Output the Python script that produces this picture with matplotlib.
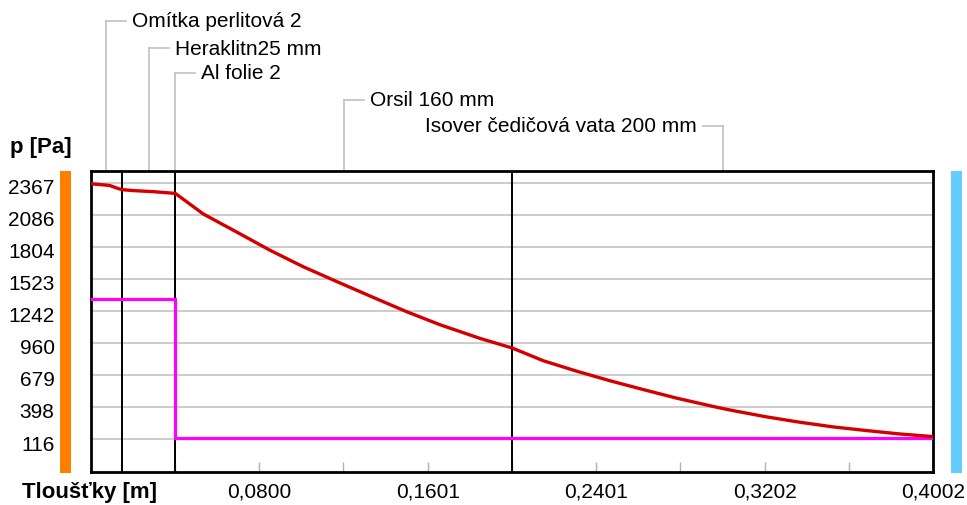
'''
Partial pressure profile through a wall (saturation vs. actual vapour pressure).
Output: out.png
'''

import matplotlib
matplotlib.use('Agg')
import matplotlib.pyplot as plt
import matplotlib.transforms as mtransforms
from matplotlib.patches import Rectangle

plt.rcParams['font.family'] = ['Liberation Sans', 'DejaVu Sans']

# layers of the wall
layers = ['Omítka perlitová 2', 'Heraklitn25 mm', 'Al folie 2', 'Orsil 160 mm',
          'Isover čedičová vata 200 mm']
thickness = [0.015, 0.025, 0.0002, 0.160, 0.200]

# saturation pressure (red)
red_x = [0.0, 0.009, 0.013, 0.015, 0.020, 0.030, 0.0402, 0.0535, 0.0694,
         0.0852, 0.1010, 0.1169, 0.1343, 0.1501, 0.1660, 0.1850, 0.2002, 0.2150,
         0.2309, 0.2467, 0.2626, 0.2784, 0.2974, 0.3053, 0.3212, 0.3370, 0.3528,
         0.3687, 0.3845, 0.4002]
red_p = [2360, 2345, 2318, 2308, 2300, 2290, 2275, 2094, 1935,
         1775, 1630, 1500, 1360, 1235, 1120, 1000, 916, 804,
         712, 628, 550, 475, 395, 365, 310, 263, 222,
         190, 160, 137]

# vapour pressure (magenta)
vap_x = [0.0, 0.0402, 0.0402, 0.4002]
vap_p = [1350, 1350, 122, 122]

y_ticks = [116, 398, 679, 960, 1242, 1523, 1804, 2086, 2367]
x_major = [0.08004, 0.16008, 0.24012, 0.32016, 0.4002]
x_minor = [0.04002, 0.12006, 0.2001, 0.28014, 0.36018]

W, H = 967, 506
FS = 15

def px(x, y, w=0, h=0):
    # pixel box (from top-left) -> figure fraction
    return (x / W, 1 - (y + h) / H, w / W, h / H)

fig = plt.figure(figsize=(W / 100, H / 100), dpi=100)
ax = fig.add_axes(px(90.7, 172, 842.5, 301))

ax.set_xlim(0, 0.4002)
ax.set_ylim(-174, 2472)

ax.set_yticks(y_ticks)
ax.set_yticklabels([str(v) for v in y_ticks], fontsize=FS)
ax.yaxis.grid(True, color='#c8c8c8', lw=1.3)
ax.set_axisbelow(True)
ax.tick_params(axis='y', length=0, pad=26)
shift = mtransforms.ScaledTranslation(0, -3 / 100, fig.dpi_scale_trans)
for lab in ax.get_yticklabels():
    lab.set_transform(lab.get_transform() + shift)

ax.set_xticks(x_major)
ax.set_xticklabels([('%.4f' % v).replace('.', ',') for v in x_major], fontsize=FS)
ax.set_xticks(x_minor, minor=True)
ax.tick_params(axis='x', which='both', direction='in', length=7.5, width=1,
               color='#b0b0b0', pad=7)

for s in ax.spines.values():
    s.set_linewidth(2)
    s.set_color('black')

# layer boundaries
edges = []
acc = 0
for t in thickness:
    acc += t
    edges.append(acc)
for e in edges[:-1]:
    ax.axvline(e, color='black', lw=1.4, zorder=2)

ax.plot(vap_x, vap_p, color='#ff00ff', lw=2.3, zorder=3, solid_joinstyle='miter')
ax.plot(red_x, red_p, color='#d40000', lw=2.4, zorder=4)

# leader lines with layer names
label_y = [22, 49, 74, 101, 127]
m_per_px = 0.4002 / 842.5
blend = mtransforms.blended_transform_factory(ax.transData, ax.transAxes)
start = 0
for name, t, ly in zip(layers, thickness, label_y):
    mid = start + t / 2
    start += t
    ya = (473 - ly) / 301.0
    if name.startswith('Isover'):
        hx = [mid, mid - 20 * m_per_px]
        tx, ha = mid - 26 * m_per_px, 'right'
    else:
        hx = [mid, mid + 20 * m_per_px]
        tx, ha = mid + 26 * m_per_px, 'left'
    ax.plot([mid, mid], [1, ya], color='#c0c0c0', lw=1.2, transform=blend, clip_on=False)
    ax.plot(hx, [ya, ya], color='#c0c0c0', lw=1.2, transform=blend, clip_on=False)
    ax.text(tx, ya, name, ha=ha, va='center', fontsize=FS, transform=blend)

# side bars for interior / exterior
x0, y0, w0, h0 = px(60, 172, 11, 302)
fig.add_artist(Rectangle((x0, y0), w0, h0, transform=fig.transFigure,
                         color='#ff8000', lw=0))
x0, y0, w0, h0 = px(951, 172, 11, 302)
fig.add_artist(Rectangle((x0, y0), w0, h0, transform=fig.transFigure,
                         color='#66ccff', lw=0))

fig.text(10 / W, 1 - 148 / H, 'p [Pa]', fontsize=16, fontweight='bold', va='center')
fig.text(22 / W, 1 - 493 / H, 'Tloušťky [m]', fontsize=16, fontweight='bold', va='center')

fig.savefig('out.png', dpi=100)
